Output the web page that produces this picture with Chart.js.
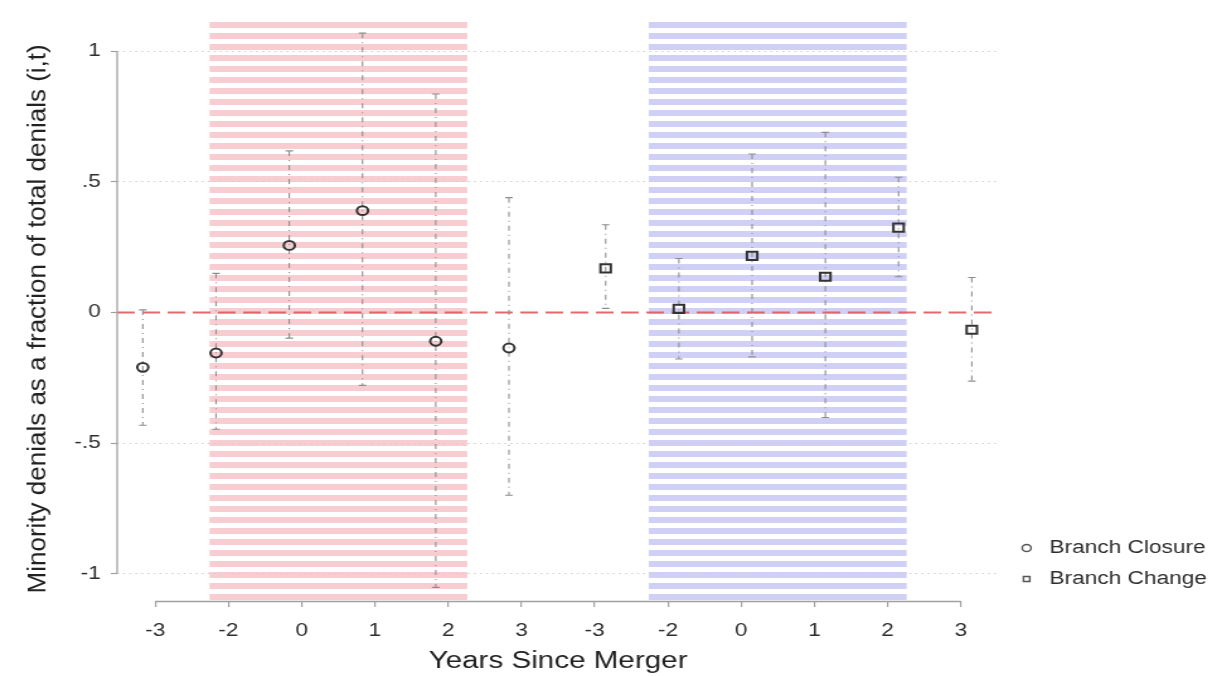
<!DOCTYPE html>
<html>
<head>
<meta charset="utf-8">
<script src="https://cdn.jsdelivr.net/npm/chart.js@4/dist/chart.umd.min.js"></script>
<style>
  html, body { margin: 0; padding: 0; background: #fff; overflow: hidden; }
  #chart { display: block; }
</style>
</head>
<body>
<!-- The source figure is stretched ~1.26x sideways: draw at 970px and let the inline size widen it to 1222px. -->
<canvas id="chart" width="970" height="676" style="width:1222px;height:676px"></canvas>
<script>
// x slots 0..11: six event years for branch closures, then six for branch changes (no -1 year).
const tickLabels = ["-3", "-2", "0", "1", "2", "3", "-3", "-2", "0", "1", "2", "3"];

// Closures sit just left of their tick, changes just right (as in the source figure).
const closureX = [-0.17, 0.83, 1.83, 2.83, 3.83, 4.83];
const closureY = [-0.21, -0.155, 0.257, 0.39, -0.11, -0.136];
const closureLow = [-0.432, -0.447, -0.098, -0.279, -1.053, -0.70];
const closureHigh = [0.01, 0.15, 0.619, 1.07, 0.837, 0.44];

const changeX = [6.15, 7.15, 8.15, 9.15, 10.15, 11.15];
const changeY = [0.169, 0.014, 0.217, 0.137, 0.325, -0.066];
const changeLow = [0.016, -0.178, -0.17, -0.402, 0.137, -0.263];
const changeHigh = [0.336, 0.207, 0.607, 0.69, 0.518, 0.134];

// Shaded windows around the merger (x units), red for closures, blue for changes.
const bandRanges = [[0.74, 4.26], [6.74, 10.26]];
const bandColors = ["rgb(248,205,210)", "rgb(208,208,246)"];

const yTicks = [-1, -0.5, 0, 0.5, 1];
const yTickLabels = ["-1", "-.5", "0", ".5", "1"];
const yTitle = "Minority denials as a fraction of total denials (i,t)";

const STRETCH = 1222 / 970;
const FONT = "'Liberation Sans', Arial, Helvetica, sans-serif";
const TEXT = "#2e2e2e";
const AXIS = "#a0a0a0";

function stripePattern(ctx, color) {
    const tile = document.createElement("canvas");
    tile.width = 4;
    tile.height = 11;
    const t = tile.getContext("2d");
    t.fillStyle = color;
    t.fillRect(0, 0, 4, 6);
    return ctx.createPattern(tile, "repeat");
}

// Striped bands behind everything (drawn before the grid).
const bandsPlugin = {
    id: "bands",
    beforeDraw(chart) {
        const { ctx, chartArea, scales: { x } } = chart;
        ctx.save();
        bandRanges.forEach(([from, to], i) => {
            const left = x.getPixelForValue(from);
            const right = x.getPixelForValue(to);
            ctx.fillStyle = stripePattern(ctx, bandColors[i]);
            ctx.fillRect(left, chartArea.top, right - left, chartArea.bottom - chartArea.top);
        });
        ctx.restore();
    },
};

// Red dashed zero line, then the dotted confidence spikes with small caps.
const spikesPlugin = {
    id: "spikes",
    beforeDatasetsDraw(chart) {
        const { ctx, chartArea, scales: { x, y } } = chart;
        ctx.save();
        const y0 = y.getPixelForValue(0);
        ctx.strokeStyle = "rgba(226,88,92,0.9)";
        ctx.lineWidth = 2;
        ctx.setLineDash([14, 6]);
        ctx.beginPath();
        ctx.moveTo(chartArea.left, y0);
        ctx.lineTo(chartArea.right, y0);
        ctx.stroke();

        ctx.strokeStyle = "#8e8e8e";
        ctx.lineWidth = 1.1;
        [[closureX, closureLow, closureHigh], [changeX, changeLow, changeHigh]].forEach(([xs, lows, highs]) => {
            xs.forEach((value, i) => {
                const px = x.getPixelForValue(value);
                const top = y.getPixelForValue(highs[i]);
                const bottom = y.getPixelForValue(lows[i]);
                ctx.setLineDash([5, 4, 1, 4]);
                ctx.beginPath();
                ctx.moveTo(px, top);
                ctx.lineTo(px, bottom);
                ctx.stroke();
                ctx.setLineDash([]);
                ctx.beginPath();
                ctx.moveTo(px - 3, top);
                ctx.lineTo(px + 3, top);
                ctx.moveTo(px - 3, bottom);
                ctx.lineTo(px + 3, bottom);
                ctx.stroke();
            });
        });
        ctx.restore();
    },
};

// Axis lines only run between the first and last tick; the y title is drawn here too, squeezed
// sideways so that after the CSS stretch it keeps normal letter proportions (as in the source).
const axisLinesPlugin = {
    id: "axisLines",
    afterDraw(chart) {
        const { ctx, chartArea, scales: { x, y } } = chart;
        ctx.save();
        ctx.strokeStyle = AXIS;
        ctx.lineWidth = 1.3;
        ctx.beginPath();
        ctx.moveTo(chartArea.left, y.getPixelForValue(yTicks[0]));
        ctx.lineTo(chartArea.left, y.getPixelForValue(yTicks[yTicks.length - 1]));
        ctx.moveTo(x.getPixelForValue(0), chartArea.bottom + 0.5);
        ctx.lineTo(x.getPixelForValue(tickLabels.length - 1), chartArea.bottom + 0.5);
        ctx.stroke();

        ctx.translate(30, (chartArea.top + chartArea.bottom) / 2 + 9);
        ctx.scale(1 / STRETCH, 1);
        ctx.rotate(-Math.PI / 2);
        ctx.font = `26px ${FONT}`;
        ctx.fillStyle = "#222";
        ctx.textAlign = "center";
        ctx.textBaseline = "middle";
        ctx.fillText(yTitle, 0, 0);
        ctx.restore();
    },
};

const closurePoints = closureX.map((value, i) => ({ x: value, y: closureY[i] }));
const changePoints = changeX.map((value, i) => ({ x: value, y: changeY[i] }));

new Chart(document.getElementById("chart"), {
    type: "scatter",
    data: {
        datasets: [
            {
                label: "Branch Closure",
                data: closurePoints,
                pointStyle: "circle",
                pointRadius: 4.4,
                borderWidth: 2,
                borderColor: "#333",
                backgroundColor: "rgba(255,255,255,0)",
            },
            {
                label: "Branch Change",
                data: changePoints,
                pointStyle: "rect",
                pointRadius: 5.8,
                borderWidth: 2,
                borderColor: "#333",
                backgroundColor: "rgba(255,255,255,0)",
            },
        ],
    },
    options: {
        responsive: false,
        animation: false,
        events: [],
        layout: { padding: { top: 14, right: 2, bottom: 0, left: 0 } },
        scales: {
            x: {
                type: "linear",
                min: -0.52,
                max: 11.52,
                afterBuildTicks: (scale) => {
                    scale.ticks = tickLabels.map((_, i) => ({ value: i }));
                },
                afterFit: (scale) => {
                    scale.height = 75;
                },
                border: { display: false },
                grid: { drawOnChartArea: false, drawTicks: true, tickLength: 6, color: AXIS, lineWidth: 1.2 },
                ticks: {
                    autoSkip: false,
                    maxRotation: 0,
                    padding: 13,
                    color: TEXT,
                    font: { family: FONT, size: 18 },
                    callback: (value) => tickLabels[Math.round(value)],
                },
                title: {
                    display: true,
                    text: "Years Since Merger",
                    color: "#222",
                    font: { family: FONT, size: 23.5 },
                    padding: { top: 0, bottom: 0 },
                },
            },
            y: {
                min: -1.105,
                max: 1.125,
                afterBuildTicks: (scale) => {
                    scale.ticks = yTicks.map((value) => ({ value }));
                },
                afterFit: (scale) => {
                    scale.width = 93;
                },
                border: { display: false, dash: [1.5, 3.3] },
                grid: {
                    color: (c) => (c.tick && c.tick.value === 0 ? "rgba(0,0,0,0)" : "#cfcfcf"),
                    lineWidth: 1,
                    tickColor: AXIS,
                    tickLength: 5,
                    tickWidth: 1.2,
                    tickBorderDash: [],
                },
                ticks: {
                    padding: 8,
                    color: TEXT,
                    font: { family: FONT, size: 18 },
                    callback: (value) => yTickLabels[yTicks.indexOf(value)],
                },
                title: { display: false },
            },
        },
        plugins: {
            tooltip: { enabled: false },
            legend: {
                position: "right",
                align: "end",
                fullSize: false,
                labels: {
                    usePointStyle: true,
                    boxWidth: 18,
                    boxHeight: 5,
                    padding: 13,
                    color: TEXT,
                    font: { family: FONT, size: 18 },
                    generateLabels: (chart) =>
                        Chart.defaults.plugins.legend.labels.generateLabels(chart).map((item) => ({
                            ...item,
                            lineWidth: 1.4,
                            strokeStyle: "#555",
                        })),
                },
            },
        },
    },
    plugins: [bandsPlugin, spikesPlugin, axisLinesPlugin],
});
</script>
</body>
</html>
